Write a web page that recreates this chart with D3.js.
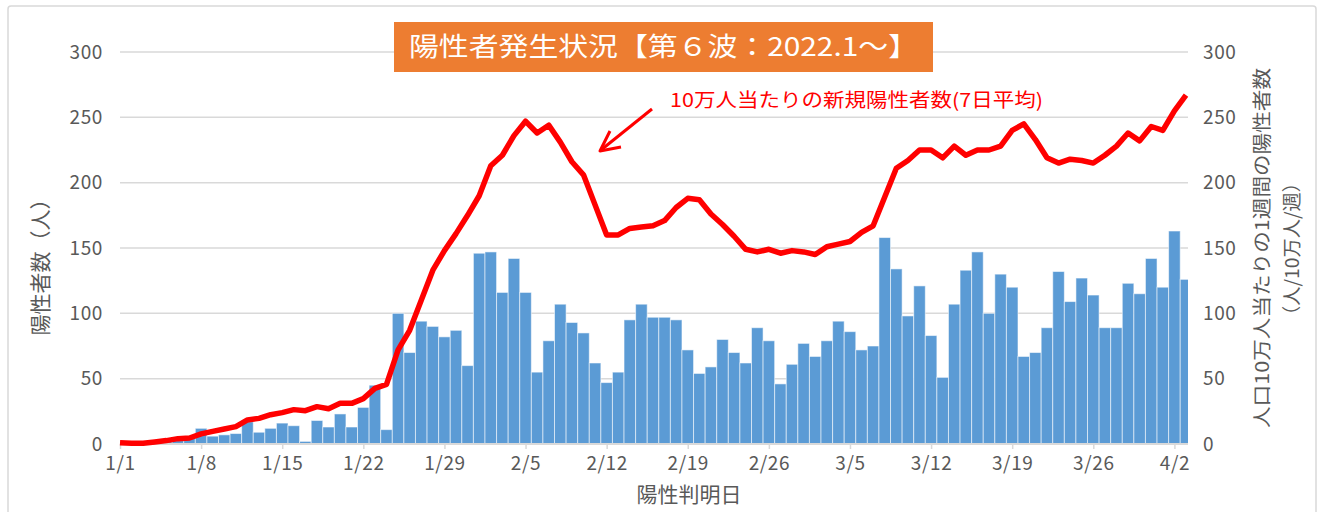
<!DOCTYPE html>
<html>
<head>
<meta charset="utf-8">
<script src="https://cdn.jsdelivr.net/npm/d3@7"></script>
<style>
  body { margin: 0; background: #fff; }
  text { font-family: "Noto Sans CJK JP", "Noto Sans", sans-serif; }
</style>
</head>
<body>
<div id="chart"></div>
<script>
// 2022/1/1 から 4/3 までの日別データ
const startDate = new Date(2022, 0, 1);

// 日別陽性者数（人）
const dailyCases = [
  1, 1, 2, 2, 3, 5, 5, 12, 6, 7,
  8, 17, 9, 12, 16, 14, 2, 18, 13, 23,
  13, 28, 45, 11, 100, 70, 94, 90, 82, 87,
  60, 146, 147, 116, 142, 116, 55, 79, 107, 93,
  85, 62, 47, 55, 95, 107, 97, 97, 95, 72,
  54, 59, 80, 70, 62, 89, 79, 46, 61, 77,
  67, 79, 94, 86, 72, 75, 158, 134, 98, 121,
  83, 51, 107, 133, 147, 100, 130, 120, 67, 70,
  89, 132, 109, 127, 114, 89, 89, 123, 115, 142,
  120, 163, 126
];

// 人口10万人当たりの1週間の陽性者数
const per100k = [
  1.0, 0.5, 0.5, 1.5, 2.6, 4.1, 4.6, 7.7, 9.7, 11.5,
  13.3, 18.4, 19.6, 22.4, 24.0, 26.3, 25.5, 28.6, 27.0, 31.1,
  31.1, 34.7, 42.6, 45.7, 72, 87, 110, 133, 148, 161,
  175, 190, 213, 221, 236, 247, 238, 244, 231, 216,
  206, 183, 160, 160, 165, 166, 167, 171, 181, 188,
  187, 176, 168, 159, 149, 147, 149, 146, 148, 147,
  145, 151, 153, 155, 162, 167, 189, 211, 217, 225,
  225, 219, 228, 221, 225, 225, 228, 240, 245, 233,
  219, 215, 218, 217, 215, 221, 228, 238, 232, 243,
  240, 255, 267
];

const yTicks = [0, 50, 100, 150, 200, 250, 300];

const titleText = "陽性者発生状況【第６波：2022.1～】";
const noteText = "10万人当たりの新規陽性者数(7日平均)";
const leftTitle = "陽性者数（人）";
const rightTitle1 = "人口10万人当たりの1週間の陽性者数";
const rightTitle2 = "（人/10万人/週）";
const xTitle = "陽性判明日";

const data = dailyCases.map((v, i) => ({
  date: d3.timeDay.offset(startDate, i),
  cases: v,
  rate: per100k[i]
}));

const width = 1322, height = 512;
const plot = { left: 120, right: 1186, top: 52, bottom: 444 };
const grey = "#595959";

const svg = d3.select("#chart").append("svg")
  .attr("width", width)
  .attr("height", height);

// 外枠
svg.append("rect")
  .attr("x", 8).attr("y", 6)
  .attr("width", 1308).attr("height", 520)
  .attr("rx", 3)
  .attr("fill", "#fff")
  .attr("stroke", "#d9d9d9")
  .attr("stroke-width", 1.5);

const x = d3.scaleTime()
  .domain([startDate, d3.timeDay.offset(startDate, dailyCases.length - 1)])
  .range([plot.left, plot.right]);

const y = d3.scaleLinear()
  .domain([0, 300])
  .range([plot.bottom, plot.top]);

const yRight = d3.scaleLinear()
  .domain([0, 300])
  .range([plot.bottom, plot.top]);

const dayW = x(d3.timeDay.offset(startDate, 1)) - x(startDate);

// グリッド線
svg.append("g")
  .selectAll("line")
  .data(yTicks.slice(1))
  .enter().append("line")
  .attr("x1", plot.left)
  .attr("x2", plot.right + 2)
  .attr("y1", d => y(d))
  .attr("y2", d => y(d))
  .attr("stroke", "#d9d9d9")
  .attr("stroke-width", 1.5);

svg.append("clipPath")
  .attr("id", "plotClip")
  .append("rect")
  .attr("x", plot.left)
  .attr("y", 0)
  .attr("width", plot.right + 2 - plot.left)
  .attr("height", plot.bottom);

// 棒グラフ
svg.append("g")
  .attr("clip-path", "url(#plotClip)")
  .selectAll("rect")
  .data(data)
  .enter().append("rect")
  .attr("x", d => x(d.date) - dayW / 2)
  .attr("y", d => y(d.cases))
  .attr("width", dayW)
  .attr("height", d => y(0) - y(d.cases))
  .attr("fill", "#5b9bd5")
  .attr("stroke", "#ffffff")
  .attr("stroke-opacity", 0.55)
  .attr("stroke-width", 1);

// x軸
const xAxis = svg.append("g")
  .attr("transform", `translate(0,${plot.bottom})`)
  .call(d3.axisBottom(x)
    .tickValues(d3.range(0, dailyCases.length, 7).map(i => d3.timeDay.offset(startDate, i)))
    .tickFormat(d => `${d.getMonth() + 1}/${d.getDate()}`)
    .tickSize(5)
    .tickPadding(8));
xAxis.select(".domain")
  .attr("stroke", "#d9d9d9")
  .attr("stroke-width", 2)
  .attr("d", `M${plot.left},0H${plot.right + 2}`);
xAxis.selectAll(".tick line").attr("stroke", "#d9d9d9").attr("stroke-width", 1.5);
xAxis.selectAll(".tick text")
  .attr("fill", grey)
  .style("font-size", "19px")
  .style("letter-spacing", "0.6px");

// 左y軸
const yAxisL = svg.append("g")
  .attr("transform", `translate(${plot.left},0)`)
  .call(d3.axisLeft(y).tickValues(yTicks).tickSize(0).tickPadding(17));
yAxisL.select(".domain").remove();
yAxisL.selectAll(".tick text")
  .attr("fill", grey)
  .style("font-size", "19px")
  .style("letter-spacing", "0.6px");

// 右y軸
const yAxisR = svg.append("g")
  .attr("transform", `translate(${plot.right},0)`)
  .call(d3.axisRight(yRight).tickValues(yTicks).tickSize(0).tickPadding(17));
yAxisR.select(".domain").remove();
yAxisR.selectAll(".tick text")
  .attr("fill", grey)
  .style("font-size", "19px")
  .style("letter-spacing", "0.6px");

// 折れ線（7日平均）
const line = d3.line()
  .x(d => x(d.date))
  .y(d => yRight(d.rate));

svg.append("path")
  .datum(data)
  .attr("fill", "none")
  .attr("stroke", "#ff0000")
  .attr("stroke-width", 5.5)
  .attr("stroke-linejoin", "round")
  .attr("d", line);

// タイトル
svg.append("rect")
  .attr("x", 394).attr("y", 22)
  .attr("width", 539).attr("height", 50)
  .attr("fill", "#ed7d31");

svg.append("text")
  .attr("x", 663.5).attr("y", 56)
  .attr("text-anchor", "middle")
  .attr("fill", "#fff")
  .style("font-size", "26px")
  .attr("textLength", 509)
  .attr("lengthAdjust", "spacingAndGlyphs")
  .text(titleText);

// 注記と矢印
svg.append("text")
  .attr("x", 670).attr("y", 107)
  .attr("fill", "#ff0000")
  .style("font-size", "19px")
  .attr("textLength", 373)
  .attr("lengthAdjust", "spacingAndGlyphs")
  .text(noteText);

svg.append("line")
  .attr("x1", 652).attr("y1", 109)
  .attr("x2", 601).attr("y2", 150)
  .attr("stroke", "#ff0000")
  .attr("stroke-width", 3);

svg.append("path")
  .attr("d", "M610,131 L600,151 L621,147")
  .attr("fill", "none")
  .attr("stroke", "#ff0000")
  .attr("stroke-width", 3)
  .attr("stroke-linejoin", "round");

// 軸タイトル
svg.append("text")
  .attr("transform", "translate(48,262) rotate(-90)")
  .attr("text-anchor", "middle")
  .attr("fill", grey)
  .style("font-size", "21px")
  .text(leftTitle);

svg.append("text")
  .attr("transform", "translate(1269,248) rotate(-90)")
  .attr("text-anchor", "middle")
  .attr("fill", grey)
  .style("font-size", "19px")
  .attr("textLength", 360)
  .attr("lengthAdjust", "spacingAndGlyphs")
  .text(rightTitle1);

svg.append("text")
  .attr("transform", "translate(1299,249) rotate(-90)")
  .attr("text-anchor", "middle")
  .attr("fill", grey)
  .style("font-size", "19px")
  .attr("textLength", 152)
  .attr("lengthAdjust", "spacingAndGlyphs")
  .text(rightTitle2);

svg.append("text")
  .attr("x", 689).attr("y", 502)
  .attr("text-anchor", "middle")
  .attr("fill", grey)
  .style("font-size", "21px")
  .text(xTitle);
</script>
</body>
</html>
